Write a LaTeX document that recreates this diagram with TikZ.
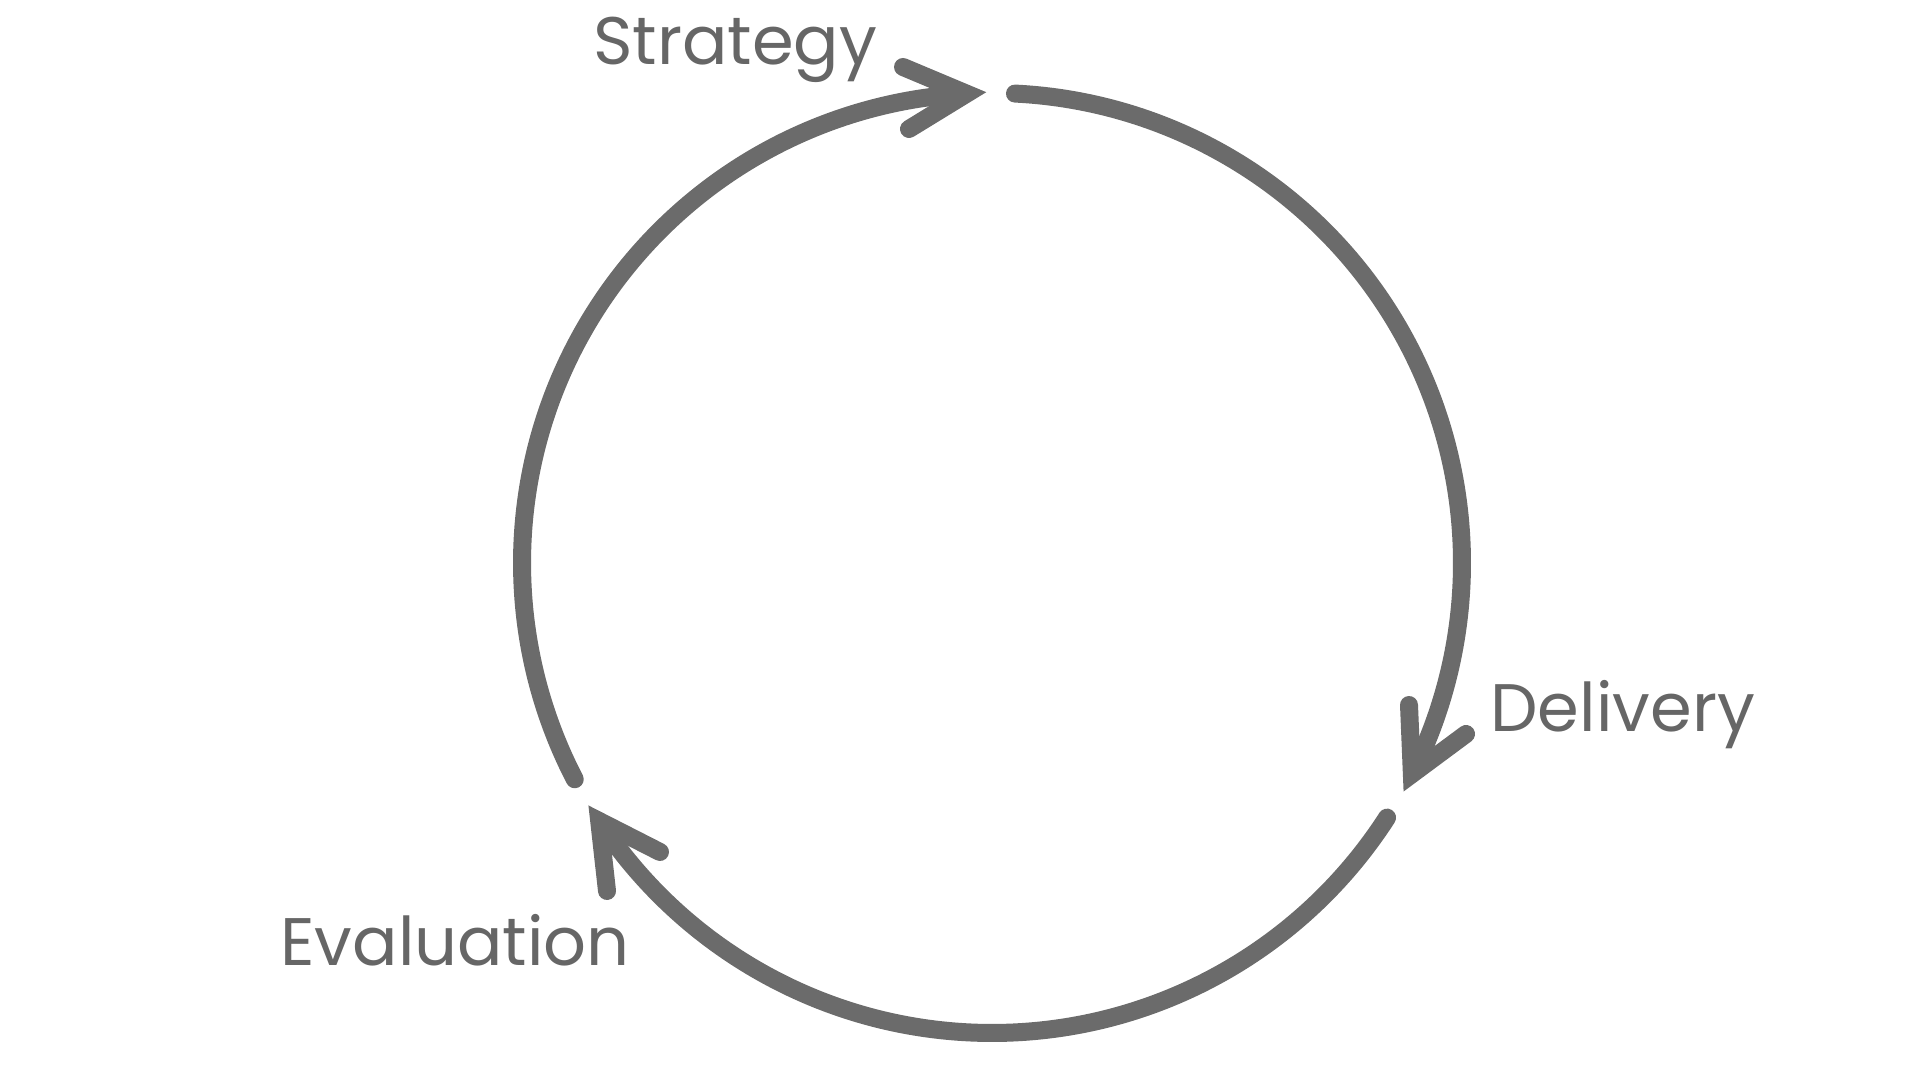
\documentclass[tikz,border=0pt]{standalone}
\usepackage{fontspec}
\setmainfont{Poppins}
\usepackage{tikz}
\usetikzlibrary{calc}
\definecolor{CycleGray}{HTML}{6B6B6B}
\definecolor{LabelGray}{HTML}{666666}
\tikzset{
  stage/.style={font=\fontsize{33.6}{40}\selectfont,text=LabelGray,
                inner sep=0pt,anchor=base west},
  cyclearc/.style={draw=CycleGray,line width=9pt,line cap=round},
  headbarb/.style={draw=CycleGray,line width=9pt,line cap=round,line join=miter,
                   miter limit=20}
}

\begin{document}
\begin{tikzpicture}[x=0.5pt,y=0.5pt]
  \useasboundingbox (0,0) rectangle (1920,1080);
  \coordinate (c) at (992,517);

  % stage labels
  \node[stage] (strategy) at (593,1015) {Strategy};
  \node[stage] (delivery) at (1490,348) {Delivery};
  \node[stage] (evaluation) at (280,114) {Evaluation};

  % arc starts and tips
  \coordinate (s1) at ($(c)+(207.4:470)$);
  \coordinate (t1) at ($(c)+(93.1:470)$);
  \coordinate (s2) at ($(c)+(87.2:470)$);
  \coordinate (t2) at ($(c)+(-26.7:470)$);
  \coordinate (s3) at ($(c)+(-32.8:470)$);
  \coordinate (t3) at ($(c)+(-146.7:470)$);

  % barb ends
  \coordinate (b1a) at (903,1013);
  \coordinate (b1b) at (909,951);
  \coordinate (b2a) at (1409,375);
  \coordinate (b2b) at (1466,346);
  \coordinate (b3a) at (607,189);
  \coordinate (b3b) at (660,228);

  \draw[cyclearc] (s1) arc[start angle=207.4,end angle=94.3,radius=470];
  \draw[cyclearc] (s2) arc[start angle=87.2,end angle=-25.3,radius=470];
  \draw[cyclearc] (s3) arc[start angle=-32.8,end angle=-145.3,radius=470];

  \draw[headbarb] (b1a) -- (t1) -- (b1b);
  \draw[headbarb] (b2a) -- (t2) -- (b2b);
  \draw[headbarb] (b3a) -- (t3) -- (b3b);
\end{tikzpicture}
\end{document}
